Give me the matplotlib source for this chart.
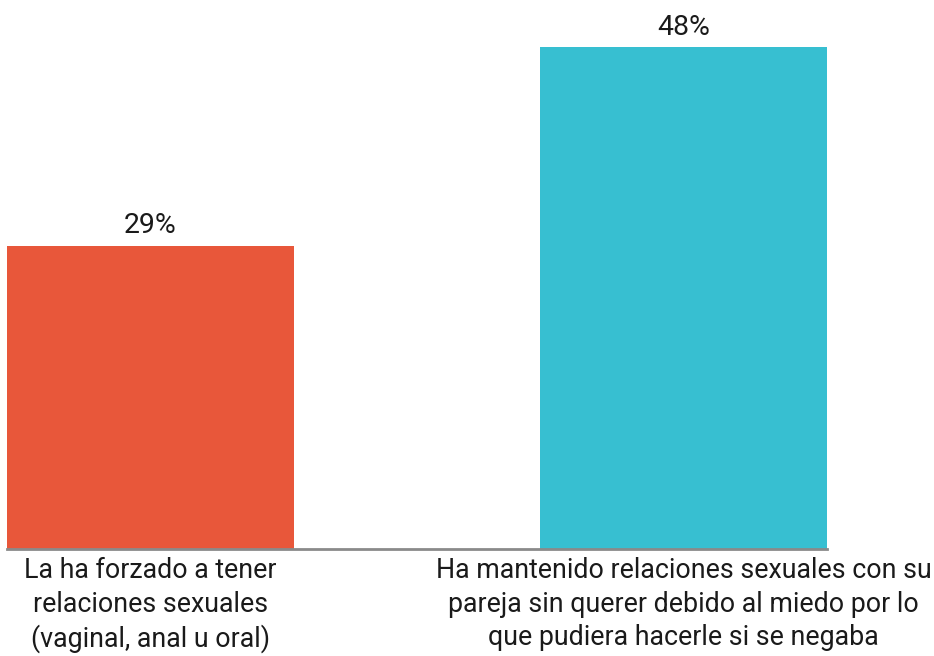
import matplotlib
matplotlib.use('Agg')
import matplotlib.pyplot as plt

# datos
categorias = ['La ha forzado a tener\nrelaciones sexuales\n(vaginal, anal u oral)',
              'Ha mantenido relaciones sexuales con su\npareja sin querer debido al miedo por lo\nque pudiera hacerle si se negaba']
valores = [29, 48]
colores = ['#E8573A', '#37BFD1']

plt.rcParams['font.family'] = ['Roboto', 'DejaVu Sans']

fig = plt.figure(figsize=(9.34, 6.56), dpi=100)
ax = fig.add_axes([7 / 934, 1 - 549 / 656, 820 / 934, 549 / 656])

ancho = 0.538
pos = range(len(valores))
barras = ax.bar(pos, valores, width=ancho, color=colores)

for b, v in zip(barras, valores):
    ax.text(b.get_x() + b.get_width() / 2, v + 0.6, f'{v}%', ha='center', va='bottom',
            fontsize=20.5, color='#1a1a1a')

ax.set_xlim(-ancho / 2, 1 + ancho / 2)
ax.set_ylim(0, 52.5)

for s in ['top', 'right', 'left']:
    ax.spines[s].set_visible(False)
ax.spines['bottom'].set_color('#8a8a8a')
ax.spines['bottom'].set_linewidth(2)
ax.set_yticks([])
ax.set_xticks([])

# etiquetas de categorias
for x, txt in zip(pos, categorias):
    ax.text(x, -0.8, txt, ha='center', va='top', fontsize=19.3, linespacing=1.3,
            color='#1a1a1a')

fig.savefig('out.png', dpi=100)
